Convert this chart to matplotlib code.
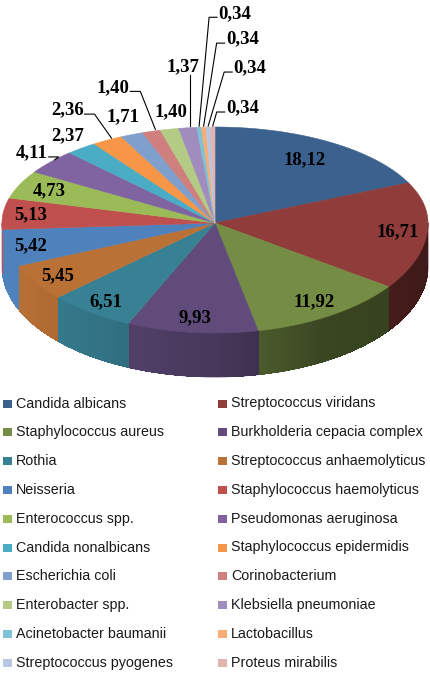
import numpy as np
import matplotlib.pyplot as plt
from matplotlib.collections import PolyCollection
from matplotlib.colors import to_rgb

# data (percent of isolates)
names = ["Candida albicans", "Streptococcus viridans", "Staphylococcus aureus",
         "Burkholderia cepacia complex", "Rothia", "Streptococcus anhaemolyticus",
         "Neisseria", "Staphylococcus haemolyticus", "Enterococcus spp.",
         "Pseudomonas aeruginosa", "Candida nonalbicans", "Staphylococcus epidermidis",
         "Escherichia coli", "Corinobacterium", "Enterobacter spp.",
         "Klebsiella pneumoniae", "Acinetobacter baumanii", "Lactobacillus",
         "Streptococcus pyogenes", "Proteus mirabilis"]
values = [18.12, 16.71, 11.92, 9.93, 6.51, 5.45, 5.42, 5.13, 4.73, 4.11,
          2.37, 2.36, 1.71, 1.40, 1.40, 1.37, 0.34, 0.34, 0.34, 0.34]
labels = [f"{v:.2f}".replace(".", ",") for v in values]

colors = ['#3B618E', '#903C3A', '#748C43', '#604B7A', '#388195', '#B97135',
          '#4F81BD', '#C0504D', '#9BBB59', '#8064A2', '#4BACC6', '#F79646',
          '#7F9FCC', '#CF7F7D', '#B3CB85', '#A08DBD', '#7DC2D5', '#F9AD74',
          '#B7C7E1', '#E0B4B3']

# geometry of the 3d pie (pixel units)
CX, CY = 215, 223
RX, RY_BACK, RY_FRONT = 213, 96, 110
DEPTH = 44

# labels: first nine inside, rest outside with offsets from rim anchor
n_inside = 9
inner_k = [0.78, 0.86, 0.85, 0.87, 0.88, 0.88, 0.89, 0.87, 0.85]
out_offset = [(-19, -9), (-14, -12), (-40, -30), (-9, -18), (-38, -44), (1, -17),
              (-5, -61), (36, -114), (39, -88), (42, -59), (30, -19)]
out_leader = ['L', None, 'L', None, 'L', None, 'V', 'R', 'R', 'R', 'R']


def edge(t_deg, k=1.0):
    t = np.radians(t_deg)
    ry = np.where(np.cos(t) >= 0, RY_BACK, RY_FRONT)
    return CX + k * RX * np.sin(t), CY - k * ry * np.cos(t)


def side_shade(t_deg):
    return np.interp(t_deg, [90, 150, 180, 215, 250, 270], [0.42, 0.5, 0.74, 0.9, 1.0, 1.0])


fig = plt.figure(figsize=(4.31, 6.78), dpi=100)
ax = fig.add_axes([0, 0, 1, 1])
ax.set_xlim(0, 431)
ax.set_ylim(678, 0)
ax.axis("off")

total = sum(values)
bounds = np.concatenate([[0], np.cumsum(values)]) / total * 360.0

# side wall (front half only): flat base per slice, then overlapping gradient strips
base, bcols, quads, qcols = [], [], [], []
for i in range(len(values)):
    a0, a1 = max(bounds[i], 90), min(bounds[i + 1], 270)
    if a1 <= a0:
        continue
    ts = np.linspace(a0, a1, max(2, int((a1 - a0) / 0.7) + 2))
    xs, ys = edge(ts)
    base.append(list(zip(xs, ys)) + list(zip(xs[::-1], ys[::-1] + DEPTH)))
    bcols.append(np.clip(np.array(to_rgb(colors[i])) * side_shade((a0 + a1) / 2), 0, 1))
    for t0, t1 in zip(ts[:-1], ts[1:]):
        t1e = min(t1 + 0.5, a1)
        seg = np.linspace(t0, t1e, 3)
        sx, sy = edge(seg)
        quads.append(list(zip(sx, sy)) + list(zip(sx[::-1], sy[::-1] + DEPTH)))
        c = np.array(to_rgb(colors[i])) * side_shade((t0 + t1) / 2)
        qcols.append(np.clip(c, 0, 1))
ax.add_collection(PolyCollection(base, facecolors=bcols, edgecolors=bcols, linewidths=0.5))
ax.add_collection(PolyCollection(quads, facecolors=qcols, edgecolors="none",
                                 antialiaseds=False))

# top faces
tops = []
for i in range(len(values)):
    ts = np.linspace(bounds[i], bounds[i + 1], max(3, int(bounds[i + 1] - bounds[i]) + 3))
    xs, ys = edge(ts)
    tops.append([(CX, CY)] + list(zip(xs, ys)))
ax.add_collection(PolyCollection(tops, facecolors=colors, edgecolors=colors, linewidths=0.4))

# data labels
lab_font = dict(family="Liberation Serif", fontweight="bold", fontsize=13.5, color="black")
for i, lab in enumerate(labels):
    mid = (bounds[i] + bounds[i + 1]) / 2
    if i < n_inside:
        x, y = edge(mid, inner_k[i])
        ax.text(x, y, lab, ha="center", va="center", **lab_font)
        continue
    j = i - n_inside
    ax_, ay_ = edge(mid)
    lx, ly = ax_ + out_offset[j][0], ay_ + out_offset[j][1]
    ax.text(lx, ly, lab, ha="center", va="center", **lab_font)
    kind = out_leader[j]
    if kind == 'L':
        sx, sy = lx + 17, ly + 4
        ax.plot([sx, sx + 10, ax_ + 4], [sy, sy, ay_ - 2], color="black", lw=0.8)
    elif kind == 'R':
        sx, sy = lx - 18, ly + 4
        ax.plot([sx, sx - 8, ax_], [sy, sy, ay_ - 1], color="black", lw=0.8)
    elif kind == 'V':
        ax.plot([lx + 7, lx + 7], [ly + 8, ay_ - 2], color="black", lw=0.8)

# legend, row by row in two columns
for i, name in enumerate(names):
    row, col = divmod(i, 2)
    y = 403.5 + row * 28.8
    x = 3 if col == 0 else 218
    ax.add_patch(plt.Rectangle((x, y - 4), 9, 8, facecolor=colors[i], edgecolor="none"))
    ax.text(x + 13, y, name, ha="left", va="center", fontsize=10.3,
            family="Liberation Sans", color="#1a1a1a")

fig.savefig("out.png", dpi=100)
